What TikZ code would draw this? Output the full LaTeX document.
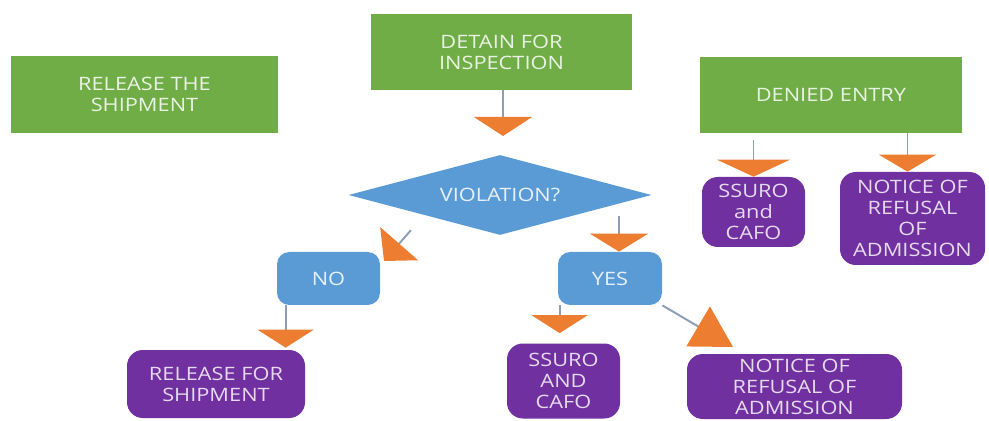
\documentclass[tikz,border=0pt]{standalone}
\usepackage{fontspec}
\setmainfont[FakeStretch=1.18]{Open Sans}
\usetikzlibrary{shapes.geometric,arrows.meta}

\definecolor{boxgreen}{HTML}{70AD47}
\definecolor{boxblue}{HTML}{5B9BD5}
\definecolor{boxpurple}{HTML}{7030A0}
\definecolor{arroworange}{HTML}{ED7D31}
\definecolor{linegray}{HTML}{8C9DB5}

\tikzset{
  box/.style={align=center, inner sep=2pt, font=\fontsize{10.5}{12}\selectfont},
  greenbox/.style={box, fill=boxgreen, text=white!85!boxgreen},
  bluebox/.style={box, fill=boxblue, rounded corners=7pt, text=white!85!boxblue},
  purplebox/.style={box, fill=boxpurple, rounded corners=9pt, text=white!82!boxpurple},
  flow/.style 2 args={draw=linegray, line width=1.1pt,
    -{Triangle[width=#1,length=#2,color=arroworange,fill=arroworange]}},
}

\begin{document}
\begin{tikzpicture}
\useasboundingbox (0,0) rectangle (19.78,8.4);

%top row
\node[greenbox, minimum width=5.34cm, minimum height=1.54cm] (release) at (2.89,6.51) {RELEASE THE\\SHIPMENT};
\node[greenbox, minimum width=5.22cm, minimum height=1.52cm] (detain) at (10.03,7.36) {DETAIN FOR\\INSPECTION};
\node[greenbox, minimum width=5.24cm, minimum height=1.52cm] (denied) at (16.62,6.50) {DENIED ENTRY};

%decision
\node[diamond, aspect=3.8, fill=boxblue, text=white!85!boxblue, inner sep=1pt,
  font=\fontsize{10.5}{12}\selectfont, minimum width=6.06cm, minimum height=1.60cm] (violation) at (10.00,4.50) {VIOLATION?};
\node[bluebox, minimum width=2.06cm, minimum height=1.06cm] (no) at (6.57,2.83) {NO};
\node[bluebox, minimum width=2.08cm, minimum height=1.06cm] (yes) at (12.20,2.83) {YES};

%outcomes
\node[purplebox, minimum width=3.56cm, minimum height=1.36cm] (shipment) at (4.32,0.72) {RELEASE FOR\\SHIPMENT};
\node[purplebox, minimum width=2.26cm, minimum height=1.50cm] (ssuro) at (11.27,0.78) {SSURO\\AND\\CAFO};
\node[purplebox, minimum width=4.30cm, minimum height=1.30cm] (refusal) at (15.89,0.67) {NOTICE OF\\REFUSAL OF\\ADMISSION};
\node[purplebox, minimum width=2.06cm, minimum height=1.40cm] (ssuroden) at (15.07,4.16) {SSURO\\and\\CAFO};
\node[purplebox, minimum width=2.90cm, minimum height=1.86cm] (refusalden) at (18.25,4.03) {NOTICE OF\\REFUSAL\\OF\\ADMISSION};

%connectors
\coordinate (d1) at (10.06,5.68);
\draw[flow={1.16cm}{0.38cm}] (detain.south -| d1) -- (d1);

\coordinate (n1) at (7.68,3.18);
\draw[flow={1.0cm}{0.46cm}, shorten <=0.4cm] (violation.south west) -- (n1);

\coordinate (y0) at (12.38,4.08);
\draw[flow={1.16cm}{0.36cm}] (y0) -- (y0 |- yes.north);

\draw[flow={1.12cm}{0.36cm}, shorten >=0.04cm] ([xshift=0.18cm]no.south west) -- ([xshift=0.18cm]no.south west |- shipment.north);
\draw[flow={1.12cm}{0.36cm}, shorten >=0.2cm] ([xshift=0.04cm]yes.south west) -- ([xshift=0.04cm]yes.south west |- ssuro.north);

\coordinate (r1) at (14.66,1.46);
\draw[flow={0.92cm}{0.81cm}] (yes.south east) -- (r1);

\draw[flow={1.46cm}{0.34cm}, shorten <=0.14cm] (denied.south -| ssuroden) -- (ssuroden.north);
\draw[flow={1.14cm}{0.34cm}] ([xshift=-0.1cm]denied.south -| refusalden) -- ([xshift=-0.1cm]refusalden.north);

\end{tikzpicture}
\end{document}
